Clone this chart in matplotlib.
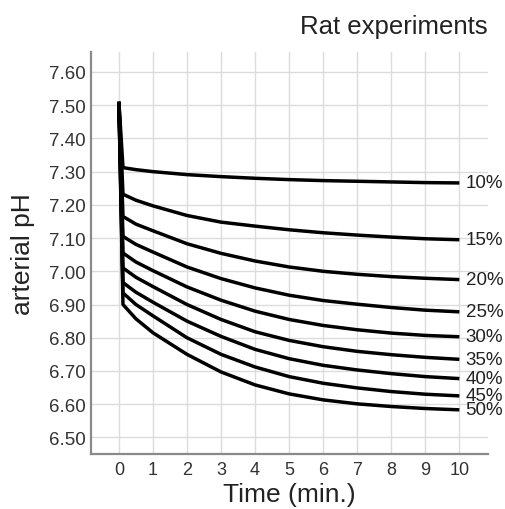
import matplotlib.pyplot as plt

plt.rcParams["font.family"] = ["Liberation Sans", "DejaVu Sans"]

OUTPUT = "out.png"

# ── Data ────────────────────────────────────────────────────────────────────
TIME = [0, 0.12, 0.5, 1, 2, 3, 4, 5, 6, 7, 8, 9, 10]
PH_START = 7.51

CONCENTRATIONS = ["10%", "15%", "20%", "25%", "30%", "35%", "40%", "45%", "50%"]

ph_10 = [PH_START, 7.312, 7.306, 7.300, 7.291, 7.285, 7.280, 7.276, 7.273, 7.271, 7.269, 7.267, 7.266]
ph_15 = [PH_START, 7.232, 7.214, 7.197, 7.168, 7.148, 7.136, 7.125, 7.116, 7.109, 7.103, 7.098, 7.095]
ph_20 = [PH_START, 7.165, 7.142, 7.122, 7.083, 7.054, 7.031, 7.013, 7.000, 6.991, 6.984, 6.979, 6.975]
ph_25 = [PH_START, 7.105, 7.081, 7.058, 7.013, 6.978, 6.950, 6.928, 6.912, 6.901, 6.891, 6.883, 6.878]
ph_30 = [PH_START, 7.055, 7.028, 7.002, 6.953, 6.913, 6.880, 6.855, 6.837, 6.824, 6.814, 6.807, 6.803]
ph_35 = [PH_START, 7.010, 6.982, 6.954, 6.900, 6.855, 6.818, 6.792, 6.773, 6.759, 6.749, 6.741, 6.735]
ph_40 = [PH_START, 6.966, 6.937, 6.907, 6.850, 6.804, 6.765, 6.737, 6.717, 6.703, 6.692, 6.683, 6.677]
ph_45 = [PH_START, 6.935, 6.900, 6.866, 6.800, 6.750, 6.712, 6.683, 6.663, 6.649, 6.638, 6.630, 6.625]
ph_50 = [PH_START, 6.900, 6.857, 6.815, 6.750, 6.697, 6.658, 6.631, 6.613, 6.601, 6.593, 6.587, 6.583]

SERIES = [ph_10, ph_15, ph_20, ph_25, ph_30, ph_35, ph_40, ph_45, ph_50]

X_TICKS = list(range(0, 11))
Y_TICKS = [6.5, 6.6, 6.7, 6.8, 6.9, 7.0, 7.1, 7.2, 7.3, 7.4, 7.5, 7.6]

# ── Plot ────────────────────────────────────────────────────────────────────
fig = plt.figure(figsize=(5.06, 5.10), dpi=100)
ax = fig.add_axes([0.1798, 0.1078, 0.7846, 0.7882])

for label, ph in zip(CONCENTRATIONS, SERIES):
    ax.plot(TIME, ph, color="black", linewidth=2.5, solid_joinstyle="round",
            solid_capstyle="butt")
    ax.text(TIME[-1] + 0.18, ph[-1], label, fontsize=13.5, va="center",
            ha="left", color="#222222", clip_on=False)

ax.set_xlim(-0.82, 10.84)
ax.set_ylim(6.45, 7.66)
ax.set_xticks(X_TICKS)
ax.set_yticks(Y_TICKS)
ax.set_yticklabels([f"{v:.2f}" for v in Y_TICKS])
ax.tick_params(axis="y", length=0, labelsize=13.5, colors="#333333", pad=4)
ax.tick_params(axis="x", length=0, labelsize=13, colors="#333333", pad=5)

ax.grid(True, color="#dcdcdc", linewidth=1.0)
ax.set_axisbelow(True)

for side in ("top", "right"):
    ax.spines[side].set_visible(False)
for side in ("left", "bottom"):
    ax.spines[side].set_color("#8a8a8a")
    ax.spines[side].set_linewidth(1.6)

ax.set_xlabel("Time (min.)", fontsize=19, color="#222222", labelpad=3)
ax.set_ylabel("arterial pH", fontsize=19, color="#222222", labelpad=9.5)
fig.text(0.963, 0.947, "Rat experiments", fontsize=18.5, ha="right",
         va="center", color="#222222")

fig.savefig(OUTPUT, dpi=100)
